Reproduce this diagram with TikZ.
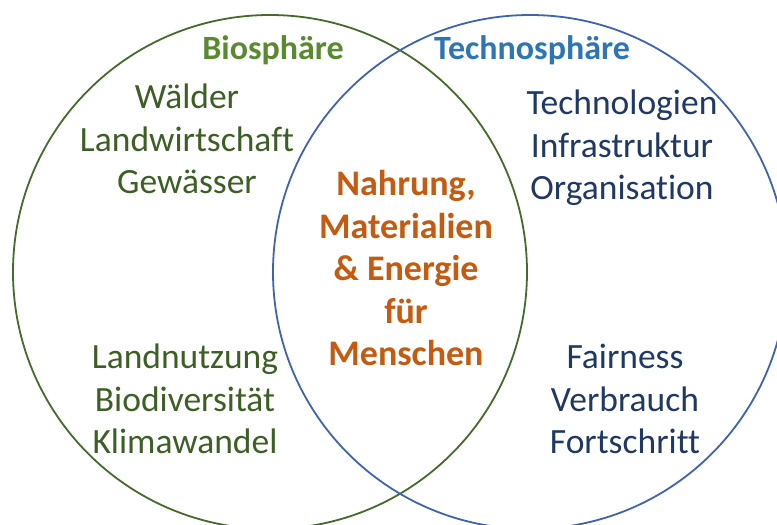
\documentclass[tikz,border=0pt]{standalone}
\usepackage{fontspec}
\setmainfont{Carlito}[Ligatures=NoCommon]
\definecolor{biocirc}{HTML}{456A2C}
\definecolor{biotitle}{HTML}{5A8A30}
\definecolor{biotext}{HTML}{3D5F25}
\definecolor{techcirc}{HTML}{3F63AE}
\definecolor{techtitle}{HTML}{2E75B6}
\definecolor{techtext}{HTML}{1F3864}
\definecolor{midtext}{HTML}{C55A11}
\begin{document}
\begin{tikzpicture}[x=1pt,y=-1pt,
  txt/.style={align=center,inner sep=0pt,font=\fontsize{35.5}{42.5}\selectfont},
  title/.style={inner sep=0pt,font=\fontsize{34}{40}\selectfont\bfseries}]
\useasboundingbox (0,0) rectangle (777,525);
\fill[white] (0,0) rectangle (777,525);
\draw[biocirc,line width=1.8pt] (270,272) circle (257);
\draw[techcirc,line width=1.8pt] (530,272) circle (257);
\node[title,text=biotitle] (bio) at (273,50) {Biosphäre};
\node[title,text=techtitle] (tech) at (532,50) {Technosphäre};
\node[txt,text=biotext] (lt) at (187,139) {Wälder\\Landwirtschaft\\Gewässer};
\node[txt,text=biotext] (lb) at (185,399) {Landnutzung\\Biodiversität\\Klimawandel};
\node[txt,text=techtext] (rt) at (622,148) {Technologien\\Infrastruktur\\Organisation};
\node[txt,text=techtext] (rb) at (625,399) {Fairness\\Verbrauch\\Fortschritt};
\node[txt,text=midtext,font=\fontsize{36}{42.5}\selectfont\bfseries] (mid) at (406,268) {Nahrung,\\Materialien\\\& Energie\\für\\Menschen};
\end{tikzpicture}
\end{document}
